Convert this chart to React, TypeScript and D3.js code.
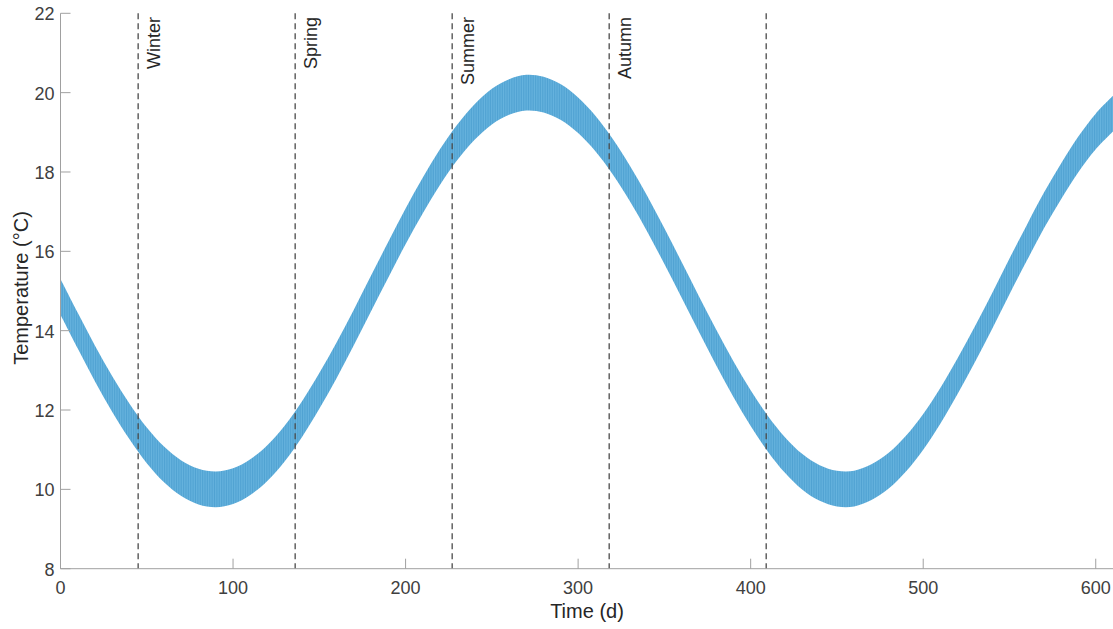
import React from "react";
import * as d3 from "d3";

const days = [0,10,20,30,40,50,60,70,80,90,100,110,120,130,140,150,160,170,180,190,200,210,220,230,240,250,260,270,280,290,300,310,320,330,340,350,360,370,380,390,400,410,420,430,440,450,460,470,480,490,500,510,520,530,540,550,560,570,580,590,600,610];
const meanTemp = [14.85,14.0,13.17,12.4,11.71,11.11,10.63,10.28,10.07,10.0,10.08,10.31,10.67,11.16,11.77,12.48,13.25,14.08,14.94,15.79,16.63,17.41,18.13,18.75,19.26,19.65,19.89,20.0,19.95,19.76,19.43,18.97,18.39,17.71,16.95,16.13,15.28,14.42,13.58,12.78,12.05,11.4,10.86,10.44,10.16,10.02,10.02,10.18,10.47,10.9,11.45,12.11,12.86,13.66,14.5,15.37,16.21,17.03,17.77,18.45,19.02,19.47];
const dailySwing = 0.45; // half of day/night range

const seasonDays = [45, 136, 227, 318, 409];
const seasonLabels = ["Winter", "Spring", "Summer", "Autumn", ""];

const xTicks = [0, 100, 200, 300, 400, 500, 600];
const yTicks = [8, 10, 12, 14, 16, 18, 20, 22];

const W = 1113, H = 629;
const FONT = "'Liberation Sans', Arial, Helvetica, sans-serif";

export default function App() {
  const x = d3.scaleLinear().domain([0, 610]).range([60.5, 1113]);
  const y = d3.scaleLinear().domain([8, 22]).range([568.7, 13.3]);
  const pts = days.map((d, i) => ({ d, t: meanTemp[i] }));
  const area = d3
    .area<{ d: number; t: number }>()
    .x((p) => x(p.d))
    .y0((p) => y(p.t - dailySwing))
    .y1((p) => y(p.t + dailySwing))
    .curve(d3.curveCatmullRom);
  const dayPx = x(1) - x(0);
  const axisColor = "#a0a0a0";
  const textColor = "#404040";
  const tickLen = 10;

  return (
    <svg width={W} height={H} style={{ position: "absolute", left: 0, top: 0, background: "#fff" }} fontFamily={FONT}>
      <defs>
        <pattern id="daily" patternUnits="userSpaceOnUse" x={x(0)} y={0} width={dayPx} height={10}>
          <rect width={dayPx} height={10} fill="#66b3de" />
          <rect width={0.5} height={10} fill="#4096c9" />
        </pattern>
      </defs>

      {/* band */}
      <path d={area(pts) || ""} fill="url(#daily)" />

      {/* season lines */}
      {seasonDays.map((s, i) => (
        <g key={i}>
          <line x1={x(s)} x2={x(s)} y1={y(22)} y2={y(8)} stroke="#4a4a4a" strokeWidth={1.3} strokeDasharray="6,4" />
          {seasonLabels[i] && (
            <text
              transform={`translate(${x(s) + 21.5},${17}) rotate(-90)`}
              textAnchor="end"
              fontSize={18}
              fill="#262626"
            >
              {seasonLabels[i]}
            </text>
          )}
        </g>
      ))}

      {/* axes */}
      <line x1={x(0)} x2={W} y1={y(8)} y2={y(8)} stroke={axisColor} strokeWidth={1} />
      <line x1={x(0)} x2={x(0)} y1={y(22)} y2={y(8)} stroke={axisColor} strokeWidth={1} />
      {xTicks.map((t) => (
        <g key={t}>
          <line x1={x(t)} x2={x(t)} y1={y(8)} y2={y(8) - tickLen} stroke={axisColor} />
          <text x={x(t)} y={y(8) + 25} textAnchor="middle" fontSize={18} fill={textColor}>
            {t}
          </text>
        </g>
      ))}
      {yTicks.map((t) => (
        <g key={t}>
          <line x1={x(0)} x2={x(0) + tickLen} y1={y(t)} y2={y(t)} stroke={axisColor} />
          <text x={x(0) - 6} y={y(t) + 7} textAnchor="end" fontSize={18} fill={textColor}>
            {t}
          </text>
        </g>
      ))}

      <text x={587} y={618} textAnchor="middle" fontSize={20} fill="#262626">
        Time (d)
      </text>
      <text transform={`translate(28,${288}) rotate(-90)`} textAnchor="middle" fontSize={20} fill="#262626">
        Temperature (°C)
      </text>
    </svg>
  );
}
